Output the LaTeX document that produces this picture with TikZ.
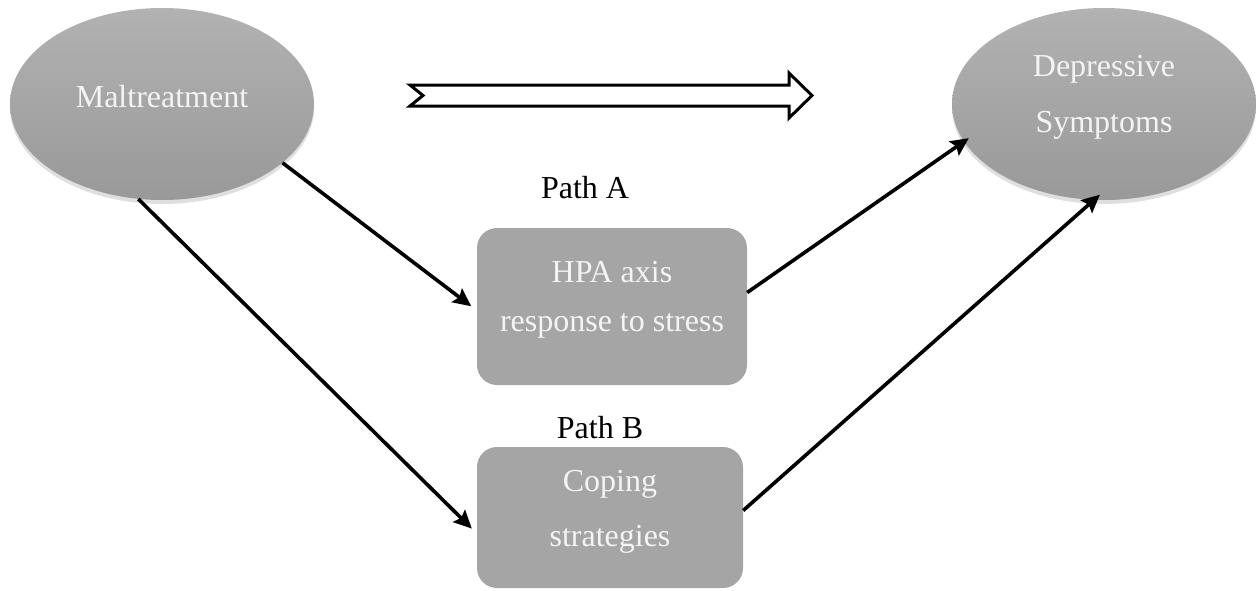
\documentclass[tikz,border=0pt]{standalone}
\usepackage{fontspec}
\setmainfont{Liberation Serif}
\usetikzlibrary{shapes.geometric,arrows.meta,shadows}
\definecolor{ellTop}{HTML}{B2B2B2}
\definecolor{ellBot}{HTML}{999999}
\definecolor{boxgray}{HTML}{A5A5A5}
\definecolor{txt}{HTML}{F4F4F4}
\begin{document}
\begin{tikzpicture}[x=1pt,y=-1pt,
  ell/.style={ellipse, minimum width=304pt, minimum height=192pt, inner sep=0pt,
    top color=ellTop, bottom color=ellBot, draw=none, text=txt,
    font=\fontsize{32}{56}\selectfont, align=center,
    drop shadow={opacity=0.25, shadow xshift=0pt, shadow yshift=-4pt}},
  boxnode/.style={rectangle, rounded corners=20pt, inner sep=0pt, fill=boxgray,
    draw=none, text=txt, align=center},
  pathlabel/.style={font=\fontsize{32}{38}\selectfont, inner sep=0pt},
  conn/.style={line width=3.6pt, -{Stealth[length=18pt,width=17pt,inset=3pt]}},
  bigarrow/.style={line width=3pt, fill=white, line join=miter}
]
\useasboundingbox (0,0) rectangle (1256,590);

\node[ell] (m) at (162,104) {Maltreatment\rule[-16pt]{0pt}{0pt}};
\node[ell] (d) at (1104,104) {Depressive\\Symptoms\rule[-20pt]{0pt}{0pt}};

\node[boxnode, minimum width=270pt, minimum height=157pt,
  font=\fontsize{32}{49}\selectfont] (h) at (612,306.5)
  {HPA axis\\response to stress\rule[-20pt]{0pt}{0pt}};
\node[boxnode, minimum width=266pt, minimum height=141pt,
  font=\fontsize{32}{55}\selectfont] (c) at (610,517.5)
  {Coping\\strategies\rule[-18pt]{0pt}{0pt}};

\node[pathlabel] (pa) at (585,188) {Path A};
\node[pathlabel] (pb) at (600,428) {Path B};

\draw[bigarrow] (410,85) -- (789,85) -- (789,73) -- (812,95.5) -- (789,118)
  -- (789,106) -- (410,106) -- (423,95.5) -- cycle;

\draw[conn, shorten >=7pt] (m.-26) -- ([yshift=-4pt]h.west);
\draw[conn, shorten >=7pt] (m.256) -- ([yshift=-16pt]c.west);
\draw[conn, shorten >=-6pt] ([yshift=14pt]h.east) -- (d.195);
\draw[conn, shorten >=-8pt] ([yshift=7pt]c.east) -- (d.264);
\end{tikzpicture}
\end{document}
